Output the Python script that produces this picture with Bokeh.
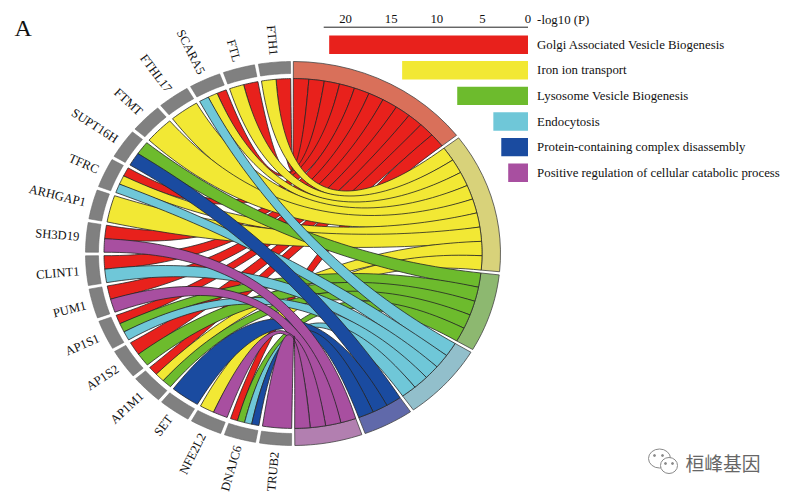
import numpy as np
from bokeh.plotting import figure
from bokeh.models import Range1d
from bokeh.core.properties import value
from bokeh.embed import file_html
from bokeh.resources import INLINE

# ---------- data ----------
genes = ["FTH1", "FTL", "SCARA5", "FTHL17", "FTMT", "SUPT16H", "TFRC", "ARHGAP1", "SH3D19",
         "CLINT1", "PUM1", "AP1S1", "AP1S2", "AP1M1", "SET", "NFE2L2", "DNAJC6", "TRUB2"]
terms = ["Golgi Associated Vesicle Biogenesis", "Iron ion transport", "Lysosome Vesicle Biogenesis",
         "Endocytosis", "Protein-containing complex disassembly",
         "Positive regulation of cellular catabolic process"]
neglogp = [21.8, 13.8, 7.76, 3.8, 2.93, 2.17]
ticks = [0, 5, 10, 15, 20]
golgi = ["FTH1", "FTL", "SCARA5", "TFRC", "SH3D19", "CLINT1", "PUM1", "AP1S1", "AP1S2", "AP1M1", "DNAJC6"]
iron = ["FTH1", "FTL", "SCARA5", "FTHL17", "FTMT", "TFRC", "ARHGAP1", "AP1M1", "NFE2L2"]
lysosome = ["SUPT16H", "AP1S1", "AP1S2", "AP1M1", "DNAJC6"]
endocytosis = ["SCARA5", "TFRC", "CLINT1", "AP1S1", "DNAJC6"]
disassembly = ["SUPT16H", "SET", "DNAJC6"]
catabolic = ["SH3D19", "PUM1", "NFE2L2", "TRUB2"]
term_genes = [golgi, iron, lysosome, endocytosis, disassembly, catabolic]
colors = ["#E8211C", "#F2E834", "#6DBB2D", "#6FC7D8", "#1A4BA0", "#A84FA0"]
ring_colors = ["#D9705A", "#D8D27A", "#8DB870", "#92BFCB", "#6069AA", "#B27FB0"]
ribbon_keep = [0.08, 0.22, 0.25, 0.25, 0.35, 0.25]

# ---------- geometry ----------
CX, CY, RX, RY = 292.5, 253.0, 207.5, 192.0
R_OUT, R_CHORD, R_GRAY = 1.0, 0.911, 0.9375
SERIF = value("Liberation Serif")
INK = "#111111"
INWARD = 0.06


def pt(theta, r):
    t = np.radians(theta)
    return CX + RX * r * np.sin(t), CY - RY * r * np.cos(t)


def arc(t0, t1, r, n=14):
    ts = np.linspace(t0, t1, n)
    return pt(ts, r)


def bez(p0, c, p2, n=50):
    t = np.linspace(0, 1, n)
    x = (1 - t) ** 2 * p0[0] + 2 * t * (1 - t) * c[0] + t ** 2 * p2[0]
    y = (1 - t) ** 2 * p0[1] + 2 * t * (1 - t) * c[1] + t ** 2 * p2[1]
    return x, y


def sector(t0, t1, r0, r1):
    xa, ya = arc(t0, t1, r1)
    xb, yb = arc(t1, t0, r0)
    return list(xa) + list(xb), list(ya) + list(yb)


W, H = 786, 496
p = figure(width=W, height=H, output_backend="svg", toolbar_location=None,
           x_range=Range1d(0, W), y_range=Range1d(H, 0), min_border=0)
p.axis.visible = False
p.grid.visible = False
p.outline_line_color = None
p.background_fill_color = "white"

# gene sectors
G_PERIOD, G_WIDTH, G_TOP = 10.0, 8.9, 359.3
g_hi = {g: G_TOP - i * G_PERIOD for i, g in enumerate(genes)}
n_links = {g: sum(g in tg for tg in term_genes) for g in genes}
used = {g: 0 for g in genes}

# term sectors
UNIT, T_GAP = 4.72, 0.95
start = 0.1
ribs = []
for ti, tg in enumerate(term_genes):
    stop = start + UNIT * len(tg)
    xs, ys = sector(start, stop, R_CHORD, R_OUT)
    p.patch(xs, ys, fill_color=ring_colors[ti], line_color="#444444", line_width=0.8)
    for m, g in enumerate(tg):
        b1 = start + m * UNIT
        b2 = b1 + UNIT
        w = G_WIDTH / n_links[g]
        a2 = g_hi[g] - used[g] * w
        a1 = a2 - w
        used[g] += 1
        xa, ya = arc(a1, a2, R_CHORD, 8)
        xb, yb = arc(b1, b2, R_CHORD, 8)
        # control points sit near the centre, held apart so that a ribbon does not pinch
        mx = (xa[4] + xb[4]) / 2
        my = (ya[4] + yb[4]) / 2
        ccx = CX - INWARD * (mx - CX)
        ccy = CY - INWARD * (my - CY)
        dx = (xa[-1] - xa[0]) + (xb[0] - xb[-1])
        dy = (ya[-1] - ya[0]) + (yb[0] - yb[-1])
        k = ribbon_keep[ti] / 2
        x1, y1 = bez((xa[-1], ya[-1]), (ccx + k * dx, ccy + k * dy), (xb[0], yb[0]))
        x2, y2 = bez((xb[-1], yb[-1]), (ccx - k * dx, ccy - k * dy), (xa[0], ya[0]))
        ribs.append((list(xa) + list(x1) + list(xb) + list(x2),
                     list(ya) + list(y1) + list(yb) + list(y2), colors[ti]))
    start = stop + T_GAP

for xs, ys, c in ribs:
    p.patch(xs, ys, fill_color=c, line_color="#262626", line_width=0.8)

for g in genes:
    xs, ys = sector(g_hi[g] - G_WIDTH, g_hi[g], R_GRAY, R_OUT)
    p.patch(xs, ys, fill_color="#808080", line_color="#6a6a6a", line_width=0.6)

# gene labels
lx, ly, la = [], [], []
for g in genes:
    mid = g_hi[g] - G_WIDTH / 2
    x, y = pt(mid, 1.0)
    d = np.hypot(x - CX, y - CY)
    ux, uy = (CX - x) / d, (CY - y) / d
    lx.append(x - ux * 7)
    ly.append(y - uy * 7)
    la.append(np.arctan2(-uy, ux))
p.text(lx, ly, text=genes, angle=la, text_align="right", text_baseline="middle",
       text_font=SERIF, text_font_size="12.6px", text_color=INK)

# bars on their own -log10(P) scale
PX0, PX_PER = 527.5, 9.12
p.extra_x_ranges["logp"] = Range1d(PX0 / PX_PER, (PX0 - W) / PX_PER)
ROW0, ROW_STEP, BAR_H = 44.2, 25.6, 18.4
rows = [ROW0 + i * ROW_STEP for i in range(len(terms))]
p.hbar(y=rows, left=0, right=neglogp, height=BAR_H, fill_color=colors, line_color=None, x_range_name="logp")
p.text(x=[-1.0] * len(terms), y=rows, text=terms, text_baseline="middle", x_range_name="logp",
       text_font=SERIF, text_font_size="12.8px", text_color=INK)
p.segment([0], [26.7], [22.4], [26.7], line_color="#222222", line_width=1, x_range_name="logp")
p.text(x=ticks, y=[18.5] * len(ticks), text=[str(t) for t in ticks], text_align="center",
       text_baseline="middle", x_range_name="logp",
       text_font=SERIF, text_font_size="12.8px", text_color=INK)
p.text(x=[-1.0], y=[19], text=["-log10 (P)"], text_baseline="middle", x_range_name="logp",
       text_font=SERIF, text_font_size="12.8px", text_color=INK)

# panel letter
p.text(x=[14], y=[27], text=["A"], text_baseline="middle",
       text_font=SERIF, text_font_size="24px", text_color="#111111")

# watermark
p.ellipse([659, 668.5], [458, 465], width=[22, 17], height=[19, 16], fill_color="white",
          line_color="#8a8a8a", line_width=1)
p.scatter([654, 662, 665, 672], [455, 455, 463, 463], size=2, color="#8a8a8a")
p.text(x=[685], y=[462], text=["桓峰基因"], text_baseline="middle",
       text_font=value("Noto Sans CJK SC"), text_font_size="18.8px", text_color="#666666")

open("out.html", "w").write(file_html(p, INLINE))
